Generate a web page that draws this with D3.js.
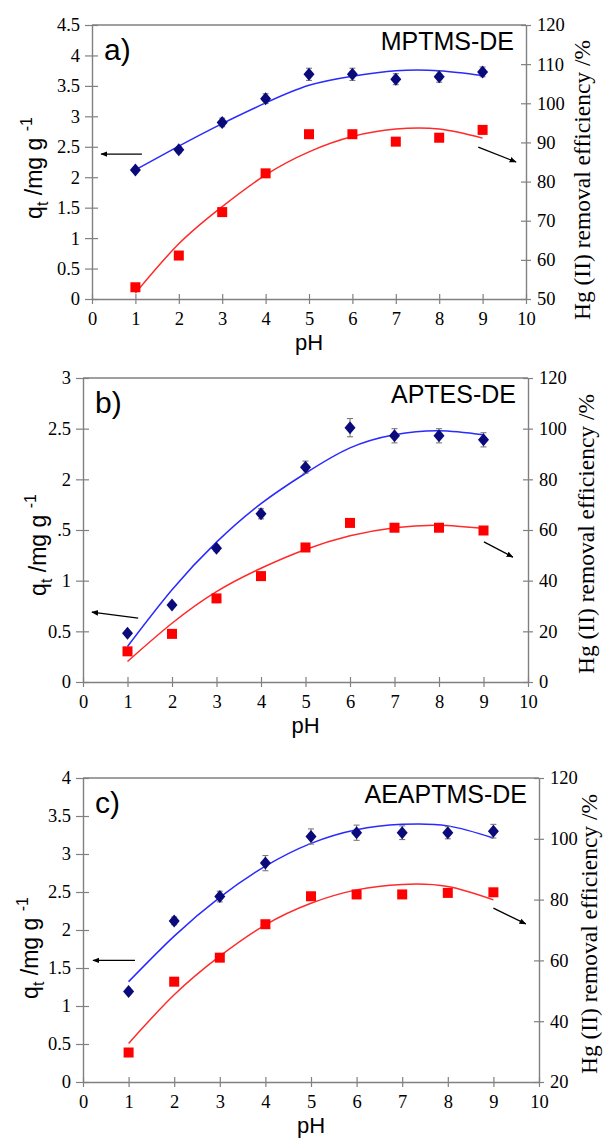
<!DOCTYPE html>
<html><head><meta charset="utf-8">
<script src="https://cdn.jsdelivr.net/npm/d3@7"></script>
<style>body{margin:0;background:#fff}svg{display:block}</style>
</head><body><svg id="chart" width="604" height="1138"></svg>
<script>
// ---------- data ----------
const pH = [1,2,3,4,5,6,7,8,9];
const xTicks = [0,1,2,3,4,5,6,7,8,9,10];

// panel a : MPTMS-DE
const qtA      = [2.12,2.45,2.90,3.29,3.69,3.69,3.61,3.65,3.73];
const qtErrA   = [0.03,0.05,0.07,0.08,0.10,0.10,0.09,0.09,0.08];
const remA     = [53.0,61.1,72.2,82.1,92.1,92.1,90.2,91.2,93.2];
const qtFitA   = [2.12,2.51,2.88,3.22,3.51,3.66,3.75,3.75,3.67];
const remFitA  = [51.5,64.1,73.6,81.7,87.6,91.5,93.4,93.4,91.1];
const leftTicksA  = [0,0.5,1,1.5,2,2.5,3,3.5,4,4.5];
const rightTicksA = [50,60,70,80,90,100,110,120];

// panel b : APTES-DE
const qtB      = [0.48,0.76,1.32,1.66,2.12,2.51,2.43,2.43,2.39];
const qtErrB   = [0.02,0.02,0.03,0.05,0.06,0.09,0.07,0.07,0.07];
const remB     = [12.1,19.0,33.0,41.8,53.1,62.8,60.9,60.9,59.8];
const qtFitB   = [0.35,0.91,1.38,1.76,2.06,2.31,2.44,2.48,2.44];
const remFitB  = [8.1,23.2,35.7,44.9,52.3,57.7,60.9,61.9,60.6];
const leftTicksB  = [0,0.5,1,1.5,2,2.5,3];
const rightTicksB = [0,20,40,60,80,100,120];

// panel c : AEAPTMS-DE
const qtC      = [1.19,2.12,2.44,2.88,3.23,3.28,3.28,3.28,3.30];
const qtErrC   = [0.02,0.05,0.07,0.10,0.10,0.10,0.09,0.08,0.09];
const remC     = [29.7,53.0,60.9,71.9,81.1,81.7,81.7,82.2,82.4];
const qtFitC   = [1.32,1.92,2.43,2.84,3.14,3.32,3.39,3.37,3.21];
const remFitC  = [32.7,48.7,61.4,71.7,78.8,83.2,85.0,84.3,79.9];
const leftTicksC  = [0,0.5,1,1.5,2,2.5,3,3.5,4];
const rightTicksC = [20,40,60,80,100,120];

// arrows [x1,y1,x2,y2,axis] (data units)
const arrowsA = [[1.15,2.38,0.21,2.38,"L"],[8.9,88.8,9.77,85.0,"R"]];
const arrowsB = [[1.24,0.63,0.20,0.69,"L"],[9.01,55.3,9.66,49.3,"R"]];
const arrowsC = [[1.14,1.60,0.22,1.60,"L"],[9.0,77.2,9.71,72.0,"R"]];

const panelLabels = ["a)","b)","c)"];
const panelTitles = ["MPTMS-DE","APTES-DE","AEAPTMS-DE"];

// ---------- drawing ----------
const svg = d3.select("#chart");
svg.append("rect").attr("width",604).attr("height",1138).attr("fill","#fff");
const defs = svg.append("defs");
defs.append("marker").attr("id","ah").attr("viewBox","0 0 10 10")
  .attr("refX",9).attr("refY",5).attr("markerWidth",7).attr("markerHeight",7)
  .attr("markerUnits","userSpaceOnUse").attr("orient","auto")
  .append("path").attr("d","M0,1L10,5L0,9Z").attr("fill","#000");

const AX = "#808080";
const SERIF = "'Liberation Serif','Times New Roman',serif";
const SANS = "'Liberation Sans',Arial,sans-serif";

const layouts = [
  {top:25, bottom:299, left:92, right:526, yMax:4.5, rMin:50, rMax:120,
   q:qtA, e:qtErrA, r:remA, qf:qtFitA, rf:remFitA, lt:leftTicksA, rt:rightTicksA, ar:arrowsA,
   ytX:42, ytY:168, rtX:590, rtY:180, mask:false},
  {top:378, bottom:682, left:83, right:528, yMax:3, rMin:0, rMax:120,
   q:qtB, e:qtErrB, r:remB, qf:qtFitB, rf:remFitB, lt:leftTicksB, rt:rightTicksB, ar:arrowsB,
   ytX:46, ytY:545, rtX:594, rtY:534, mask:true},
  {top:778, bottom:1082, left:83, right:539, yMax:4, rMin:20, rMax:120,
   q:qtC, e:qtErrC, r:remC, qf:qtFitC, rf:remFitC, lt:leftTicksC, rt:rightTicksC, ar:arrowsC,
   ytX:38, ytY:948, rtX:597, rtY:934, mask:false}
];

layouts.forEach((p,i)=>{
  const g = svg.append("g");
  const x = d3.scaleLinear([0,10],[p.left,p.right]);
  const yL = d3.scaleLinear([0,p.yMax],[p.bottom,p.top]);
  const yR = d3.scaleLinear([p.rMin,p.rMax],[p.bottom,p.top]);

  // axes
  const gx = g.append("g").attr("transform",`translate(0,${p.bottom})`)
    .call(d3.axisBottom(x).tickValues(xTicks).tickFormat(d=>String(d)).tickSize(5).tickSizeOuter(0).tickPadding(8));
  gx.selectAll(".tick line").attr("y1",-5).attr("y2",5);
  const gl = g.append("g").attr("transform",`translate(${p.left},0)`)
    .call(d3.axisLeft(yL).tickValues(p.lt).tickFormat(d=>String(d)).tickSize(7).tickSizeOuter(0).tickPadding(5));
  gl.selectAll(".tick line").attr("x1",6).attr("x2",-7);
  const gr = g.append("g").attr("transform",`translate(${p.right},0)`)
    .call(d3.axisRight(yR).tickValues(p.rt).tickFormat(d=>String(d)).tickSize(5).tickSizeOuter(0).tickPadding(6));
  gr.selectAll(".tick line").attr("x1",-5).attr("x2",5);
  [gx,gl,gr].forEach(a=>{
    a.selectAll("path.domain").attr("stroke",AX).attr("stroke-width",1.4);
    a.selectAll(".tick line").attr("stroke",AX).attr("stroke-width",1.2);
    a.selectAll("text").attr("font-family",SERIF).attr("font-size",18.5).attr("fill","#000");
  });
  g.append("line").attr("x1",x(0)).attr("x2",x(10)).attr("y1",p.top).attr("y2",p.top)
    .attr("stroke",AX).attr("stroke-width",1.4);

  // fit lines
  const curve = d3.curveNatural;
  g.append("path").datum(pH.map((v,k)=>[v,p.rf[k]]))
    .attr("d",d3.line().x(d=>x(d[0])).y(d=>yR(d[1])).curve(curve))
    .attr("fill","none").attr("stroke","#ff2a2a").attr("stroke-width",1.5);
  g.append("path").datum(pH.map((v,k)=>[v,p.qf[k]]))
    .attr("d",d3.line().x(d=>x(d[0])).y(d=>yL(d[1])).curve(curve))
    .attr("fill","none").attr("stroke","#2a2aff").attr("stroke-width",1.5);

  // error bars
  const eb = g.append("g").attr("stroke","#7a7a7a").attr("stroke-width",1.1);
  pH.forEach((v,k)=>{
    const cx = x(v), y1 = yL(p.q[k]-p.e[k]), y2 = yL(p.q[k]+p.e[k]);
    eb.append("line").attr("x1",cx).attr("x2",cx).attr("y1",y1).attr("y2",y2);
    eb.append("line").attr("x1",cx-3).attr("x2",cx+3).attr("y1",y1).attr("y2",y1);
    eb.append("line").attr("x1",cx-3).attr("x2",cx+3).attr("y1",y2).attr("y2",y2);
  });

  // markers
  g.append("g").selectAll("rect").data(pH.map((v,k)=>[v,p.r[k]])).join("rect")
    .attr("x",d=>x(d[0])-5).attr("y",d=>yR(d[1])-5).attr("width",10).attr("height",10)
    .attr("fill","#ff0000");
  g.append("g").selectAll("path").data(pH.map((v,k)=>[v,p.q[k]])).join("path")
    .attr("d","M0,-6.5L5.5,0L0,6.5L-5.5,0Z")
    .attr("transform",d=>`translate(${x(d[0])},${yL(d[1])})`)
    .attr("fill","#0a0a7a");

  // arrows
  p.ar.forEach(a=>{
    const ys = a[4]==="L" ? yL : yR;
    g.append("line").attr("x1",x(a[0])).attr("y1",ys(a[1])).attr("x2",x(a[2])).attr("y2",ys(a[3]))
      .attr("stroke","#000").attr("stroke-width",1.3).attr("marker-end","url(#ah)");
  });

  // texts
  g.append("text").attr("x",p.left+12).attr("y",p.top+35).attr("font-family",SANS)
    .attr("font-size",30).text(panelLabels[i]);
  g.append("text").attr("x",p.right-12).attr("y",p.top+25).attr("text-anchor","end")
    .attr("font-family",SANS).attr("font-size",25).text(panelTitles[i]);

  g.append("text").attr("x",(p.left+p.right)/2).attr("y",p.bottom+51).attr("text-anchor","middle")
    .attr("font-family",SANS).attr("font-size",22).text("pH");

  if(p.mask){
    g.append("rect").attr("x",22).attr("y",p.ytY-50).attr("width",35).attr("height",100).attr("fill","#fff");
  }
  const yt = g.append("text").attr("transform",`translate(${p.ytX},${p.ytY}) rotate(-90)`)
    .attr("text-anchor","middle").attr("font-family",SANS).attr("font-size",23);
  yt.append("tspan").text("q");
  yt.append("tspan").attr("font-size",16).attr("dy",6).text("t");
  yt.append("tspan").attr("dy",-6).text(" /mg g ");
  yt.append("tspan").attr("font-size",16).attr("dy",-10).text("-1");

  g.append("text").attr("transform",`translate(${p.rtX},${p.rtY}) rotate(-90)`)
    .attr("text-anchor","middle").attr("font-family",SERIF).attr("font-size",23.5)
    .text("Hg (II) removal efficiency /%");
});
</script></body></html>
